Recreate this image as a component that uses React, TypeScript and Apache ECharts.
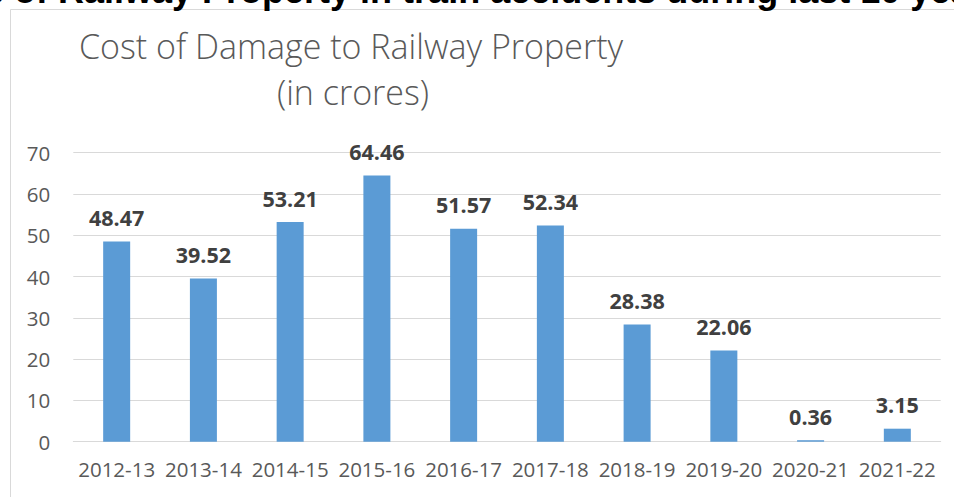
import React, { useEffect, useRef } from "react";
import * as echarts from "echarts";

const categories = ["2012-13", "2013-14", "2014-15", "2015-16", "2016-17", "2017-18", "2018-19", "2019-20", "2020-21", "2021-22"];
const values = [48.47, 39.52, 53.21, 64.46, 51.57, 52.34, 28.38, 22.06, 0.36, 3.15];
const yTicks = [0, 10, 20, 30, 40, 50, 60, 70];
const headingText = "Loss of Railway Property in train accidents during last 10 years";
const titleLines = ["Cost of Damage to Railway Property", "(in crores)"];

export default function App() {
  const ref = useRef<HTMLDivElement>(null);
  useEffect(() => {
    if (!ref.current) return;
    const chart = echarts.init(ref.current, null, { renderer: "svg" });
    const font = "'Open Sans', 'Noto Sans', sans-serif";
    chart.setOption({
      animation: false,
      backgroundColor: "#ffffff",
      grid: { left: 73.3, right: 13.3, top: 152.7, bottom: 55.3, containLabel: false },
      xAxis: {
        type: "category",
        data: categories,
        axisLine: { show: true, lineStyle: { color: "#d9d9d9", width: 1 } },
        axisTick: { show: false },
        axisLabel: { color: "#595959", fontSize: 20.5, fontFamily: font, margin: 17, interval: 0 },
      },
      yAxis: {
        type: "value",
        min: yTicks[0],
        max: yTicks[yTicks.length - 1],
        interval: 10,
        axisLine: { show: false },
        axisTick: { show: false },
        splitLine: { lineStyle: { color: "#d9d9d9", width: 1 } },
        axisLabel: { color: "#595959", fontSize: 20.5, fontFamily: font, margin: 23 },
      },
      series: [
        {
          type: "bar",
          data: values,
          barWidth: 27,
          itemStyle: { color: "#5B9BD5" },
          label: {
            show: true,
            position: "top",
            distance: 13,
            color: "#404040",
            fontSize: 21.5,
            fontWeight: "bold",
            fontFamily: font,
          },
        },
      ],
      graphic: [
        {
          type: "rect",
          shape: { x: 10.5, y: 9.5, width: 1200, height: 800 },
          style: { fill: "none", stroke: "#d9d9d9", lineWidth: 1 },
          silent: true,
          z: -1,
        },
        {
          type: "text",
          x: -80,
          y: -10,
          style: {
            text: headingText,
            font: "bold 36px 'Liberation Sans', Arial, sans-serif",
            fill: "#000000",
            verticalAlign: "middle",
            align: "left",
          },
        },
        {
          type: "text",
          x: 351,
          y: 46,
          style: {
            text: titleLines[0],
            font: `300 34px ${font}`,
            fill: "#595959",
            align: "center",
            verticalAlign: "middle",
          },
        },
        {
          type: "text",
          x: 353,
          y: 92,
          style: {
            text: titleLines[1],
            font: `300 34px ${font}`,
            fill: "#595959",
            align: "center",
            verticalAlign: "middle",
          },
        },
      ],
    });
    return () => chart.dispose();
  }, []);
  return <div ref={ref} style={{ position: "absolute", left: 0, top: 0, width: 954, height: 497 }} />;
}
